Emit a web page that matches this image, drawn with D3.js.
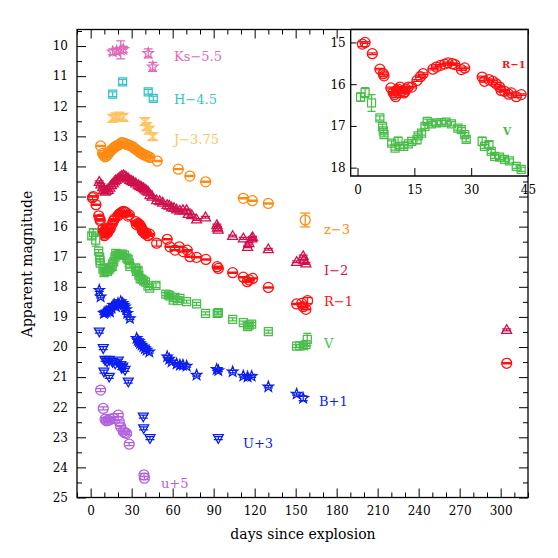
<!DOCTYPE html>
<html>
<head>
<meta charset="utf-8">
<script src="https://cdn.jsdelivr.net/npm/d3@7"></script>
<style>
  body { margin: 0; background: #fff; }
  svg { display: block; }
  text { font-family: "DejaVu Serif", serif; }
</style>
</head>
<body>
<svg id="chart"></svg>
<script>
// light curve points: [day since explosion, apparent mag (offset applied), optional error]
const ksData = [[16.1,10.19],[19,10.17],[22,10.13,0.3],[23.9,10.11],[42.1,10.24,0.15],[45.4,10.69,0.15]];
const hData = [[16.1,11.6],[23.4,11.19],[42.1,11.52],[45.8,11.74]];
const jData = [[16.1,12.4],[18.5,12.35],[20.9,12.33],[23.9,12.37],[39.7,12.51],[41,12.68],[42.9,12.79],[45.4,13.01]];
const zData = [[7.3,13.32],[8.8,13.57],[9.5,13.62],[10.5,13.68],[11.5,13.65],[12.5,13.6],[14.1,13.51],[15.3,13.45],
  [16.5,13.4],[17.5,13.36],[18.8,13.32],[20.2,13.29],[21.5,13.25],[22.7,13.21],[23.8,13.22],[25.1,13.24],[26.3,13.26],
  [27.5,13.28],[29,13.31],[30.7,13.34],[32,13.4],[33.6,13.45],[35,13.5],[36,13.53],[37.3,13.57],[38.5,13.6],[40,13.63],
  [41,13.65],[42.2,13.68],[43.4,13.7],[48.7,13.82],[64.1,14.09],[72.6,14.32],[84.1,14.51],[111.7,15.06],[118.3,15.14],
  [130,15.23],[157,15.78,0.23]];
const iData = [[6.3,14.51],[7.5,14.6],[8.8,14.69],[9.5,14.78],[10.5,14.84],[11.5,14.8],[12.9,14.78],[14,14.7],[15.2,14.62],
  [16.5,14.56],[17.5,14.5],[18.5,14.45],[20.2,14.4],[21.5,14.35],[22.7,14.32],[23.9,14.29],[25,14.32],[26.3,14.36],
  [27.5,14.4],[28.7,14.45],[30,14.48],[31.2,14.51],[33,14.56],[34.8,14.62],[36,14.65],[37.3,14.68],[38.5,14.72],
  [39.7,14.76],[41,14.8],[42.1,14.84],[43.4,14.95],[45,15.0],[48.3,15.12],[50.5,15.15],[52.7,15.2],[56,15.28],
  [57.5,15.3],[59.2,15.36],[61,15.38],[62.9,15.43],[65.3,15.47],[67.5,15.45],[70.2,15.45],[71.4,15.58],[74,15.62],
  [77.5,15.76],[84,15.69],[92.3,15.95],[92.8,16.03],[93.3,16.1],[103.9,16.31],[111.7,16.39],[114.8,16.67],
  [115.8,16.55],[117.8,16.39],[118.5,16.35],[130,16.75],[150.7,17.17],[155.5,16.98],[156,17.11],[157.5,17.22],
  [304.4,19.43]];
const rData = [[1.3,15.04,0.06],[2.0,15.0],[3.9,15.27],[5.9,15.64],[6.8,15.75],[7.0,15.8],[8.8,16.09],[9.4,16.2],
  [9.8,16.25],[10.05,16.3],[10.3,16.15],[10.7,16.12],[11.2,16.07],[11.6,16.17],[12.2,16.21],[12.5,16.18],[12.8,16.12],
  [13.4,16.07],[14.3,16.07],[15.7,15.91],[16.6,15.82],[17.3,15.75],[19.9,15.64],[20.8,15.59],[21.9,15.55],[23.0,15.52],
  [23.9,15.49],[25.0,15.51],[25.7,15.53],[27.4,15.65],[28.3,15.61],[32.9,15.83],[33.5,15.93],[34.7,15.89],[35.7,15.93],
  [36.6,15.99],[37.5,16.07],[37.9,16.15],[38.8,16.17],[39.9,16.24],[40.6,16.21],[41.9,16.3],[43.2,16.25],
  [48.3,16.55,0.1],[56,16.42],[58,16.67],[61.7,16.78],[64.8,16.67],[67.7,16.83],[70.7,16.78],[72.6,17.0],[77.5,17.02],
  [84.3,17.09],[92.6,17.33],[93.4,17.39],[103.9,17.53],[111.7,17.68],[114.6,17.83],[116,17.77],[118.5,17.72],
  [130,18.02],[150.7,18.57],[154.4,18.55],[155.5,18.66],[157.5,18.75],[158.7,18.46,0.1],[304.4,20.54]];
const vData = [[0.8,16.31,0.1],[2.0,16.2,0.12],[3.7,16.45,0.2],[5.9,16.81],[6.6,17.01],[6.8,17.12],[7.0,17.21],
  [9.0,17.41],[9.9,17.53],[10.7,17.37,0.1],[11.2,17.49],[12.2,17.49],[13.4,17.43],[14.3,17.37],[15.7,17.33,0.1],
  [16.0,17.24],[16.9,17.17],[17.8,17.01],[18.4,16.89],[19.5,16.95],[20.8,16.93],[22.1,16.92],[23.4,16.91],[24.8,16.95],
  [26.5,17.05],[27.4,17.09],[28.3,17.21],[28.7,17.32,0.06],[32.9,17.37,0.1],[33.5,17.49],[34.7,17.45,0.08],[35.3,17.61],
  [36.2,17.73],[37.5,17.75],[38.8,17.8],[40.1,17.84],[41.9,17.97],[43.2,18.04],[47.8,17.95,0.08],[55,18.24],
  [56.8,18.27],[58,18.3],[60.4,18.44],[61.7,18.35],[63.4,18.46],[65.3,18.38],[70.2,18.49],[77.5,18.57],[84,18.88],
  [92.6,18.88],[93.4,18.86],[103.9,19.08],[111.7,19.19],[114.8,19.32],[116,19.27],[117.8,19.24],[130,19.49],
  [150.7,19.97],[153,19.96],[155.5,19.95],[157.5,19.92],[158.5,19.75,0.2]];
const bData = [[6.3,18.11],[7.3,18.33],[9.7,18.88],[10.5,18.85],[11.7,18.83],[13,18.8],[14.1,18.83],[15.3,18.7],
  [16.5,18.61],[17.5,18.6],[18.5,18.66],[20,18.55],[22,18.49],[23.4,18.55],[24.3,18.6],[25.1,18.66],[26,18.75],
  [26.8,18.88],[28.7,19.05],[33.6,19.71],[34.5,19.78],[35.3,19.82],[36.1,19.88],[37.3,19.93],[38.5,19.99],[39.7,20.05],
  [41,20.1],[42.9,20.16],[56,20.32],[57.5,20.4],[59.2,20.49],[62.9,20.56],[65.3,20.6],[67.5,20.6],[70.2,20.63],
  [77.5,20.93],[92.2,20.74],[93.4,20.78],[103.9,20.82],[111.7,20.96],[114.8,20.99],[117.8,20.97],[130,21.32],
  [150.7,21.56],[155.5,21.7,0.08]];
const uData = [[6.3,19.49],[9.2,20.04],[9.7,20.82],[10.5,20.43],[12,20.48],[13.6,20.43],[13.6,20.99],[16,20.5],
  [18,20.55],[20.2,20.45],[22,20.6],[22.7,20.7],[23.5,20.65],[25.1,20.76],[27.5,21.15],[38.5,22.31],[38.8,22.7],
  [43.4,23.03],[93.4,23.03]];
const uSdssData = [[7.3,21.43],[9.2,22.04],[10.5,22.4],[11.5,22.45],[12.9,22.43],[14.5,22.4],[16.5,22.37],[20.2,22.26],
  [20.9,22.48],[22,22.65],[23.9,22.81],[25,22.85],[26.3,22.87],[28.2,23.23],[39,24.25],[39.3,24.36]];

const xTicks = [0, 30, 60, 90, 120, 150, 180, 210, 240, 270, 300];
const yTicks = [10, 11, 12, 13, 14, 15, 16, 17, 18, 19, 20, 21, 22, 23, 24, 25];
const insetXTicks = [0, 15, 30, 45];
const insetYTicks = [15, 16, 17, 18];

const series = [
  {name: "Ks\u22125.5", data: ksData, color: "#dd6ab8", shape: "star", err: 0.1, lx: 174, ly: 56},
  {name: "H\u22124.5", data: hData, color: "#33c4c8", shape: "square", err: 0.08, lx: 174, ly: 99},
  {name: "J\u22123.75", data: jData, color: "#ffc462", shape: "hourglass", err: 0.1, lx: 174, ly: 139},
  {name: "z\u22123", data: zData, color: "#ff8a12", shape: "circle", err: 0.02, lx: 324, ly: 229},
  {name: "I\u22122", data: iData, color: "#d0104c", shape: "triangle", err: 0.03, lx: 324, ly: 270},
  {name: "R\u22121", data: rData, color: "#ff1010", shape: "circle", err: 0.02, lx: 324, ly: 301},
  {name: "V", data: vData, color: "#48bd48", shape: "square", err: 0.05, lx: 324, ly: 343},
  {name: "B+1", data: bData, color: "#0a1ef0", shape: "star", err: 0.04, lx: 319, ly: 401},
  {name: "U+3", data: uData, color: "#0a1ef0", shape: "itriangle", err: 0.05, lx: 243, ly: 443},
  {name: "u+5", data: uSdssData, color: "#b160e0", shape: "circle", err: 0.05, lx: 161, ly: 483}
];

const W = 558, H = 558;
const svg = d3.select("#chart").attr("width", W).attr("height", H);

const x = d3.scaleLinear().domain([-10, 320]).range([77, 528]);
const y = d3.scaleLinear().domain([9.45, 25]).range([29.5, 497.5]);
const xi = d3.scaleLinear().domain([-1.8, 45]).range([350.7, 528]);
const yi = d3.scaleLinear().domain([14.69, 18.2]).range([29.5, 176]);

function starPath(ro, ri) {
  let p = "";
  for (let k = 0; k < 10; k++) {
    const r = k % 2 ? ri : ro;
    const a = -Math.PI / 2 + k * Math.PI / 5;
    p += (k ? "L" : "M") + (r * Math.cos(a)).toFixed(2) + "," + (r * Math.sin(a)).toFixed(2);
  }
  return p + "Z";
}
const shapes = {
  circle: {d: "M5,0A5,5 0 1,1 -5,0A5,5 0 1,1 5,0Z", w: 5},
  square: {d: "M-4,-4H4V4H-4Z", w: 4},
  triangle: {d: "M0,-5.2L5,3.5H-5Z", w: 4.5},
  itriangle: {d: "M0,5.2L5,-3.5H-5Z", w: 4.5},
  star: {d: starPath(5.5, 2.3), w: 4.5},
  hourglass: {d: "M-4.5,-4H4.5L-4.5,4H4.5Z", w: 4.5}
};

function drawSeries(g, s, xs, ys, filter) {
  const sh = shapes[s.shape];
  const pts = s.data.filter(filter);
  const grp = g.append("g").attr("stroke", s.color).attr("fill", "none").attr("stroke-width", 1.25);
  pts.forEach(d => {
    const e = d[2] !== undefined ? d[2] : s.err;
    const cx = xs(d[0]), cy = ys(d[1]);
    const y1 = ys(d[1] - e), y2 = ys(d[1] + e);
    grp.append("path")
      .attr("d", `M${cx},${y1}V${y2}M${cx - sh.w},${y1}H${cx + sh.w}M${cx - sh.w},${y2}H${cx + sh.w}`);
    grp.append("path").attr("transform", `translate(${cx},${cy})`).attr("d", sh.d);
  });
}

// main panel
svg.append("clipPath").attr("id", "clipMain").append("rect")
  .attr("x", 77).attr("y", 29.5).attr("width", 451).attr("height", 468);
const gMain = svg.append("g").attr("clip-path", "url(#clipMain)");
series.forEach(s => drawSeries(gMain, s, x, y, () => true));

series.forEach(s => {
  svg.append("text").attr("x", s.lx).attr("y", s.ly).attr("dy", "0.35em")
    .attr("fill", s.color).style("font-size", "13px").text(s.name);
});

function styleAxis(g) {
  g.select(".domain").remove();
  g.selectAll("line").attr("stroke", "#000").attr("stroke-width", 1);
  g.selectAll("text").style("font-family", "DejaVu Serif, serif").style("font-size", "12px").attr("fill", "#000");
}
const minorX = d3.range(-10, 321, 10).filter(v => v % 30 !== 0);
const minorY = d3.range(9.5, 25, 1);

svg.append("g").attr("transform", "translate(0,497.5)")
  .call(d3.axisBottom(x).tickValues(xTicks).tickSize(-9).tickPadding(9)).call(styleAxis);
svg.append("g").attr("transform", "translate(0,497.5)")
  .call(d3.axisBottom(x).tickValues(minorX).tickSize(-5).tickFormat("")).call(styleAxis);
svg.append("g").attr("transform", "translate(0,29.5)")
  .call(d3.axisTop(x).tickValues(xTicks).tickSize(-9).tickFormat("")).call(styleAxis);
svg.append("g").attr("transform", "translate(0,29.5)")
  .call(d3.axisTop(x).tickValues(minorX).tickSize(-5).tickFormat("")).call(styleAxis);
svg.append("g").attr("transform", "translate(77,0)")
  .call(d3.axisLeft(y).tickValues(yTicks).tickSize(-9).tickPadding(9)).call(styleAxis);
svg.append("g").attr("transform", "translate(77,0)")
  .call(d3.axisLeft(y).tickValues(minorY).tickSize(-5).tickFormat("")).call(styleAxis);
svg.append("g").attr("transform", "translate(528,0)")
  .call(d3.axisRight(y).tickValues(yTicks).tickSize(-9).tickFormat("")).call(styleAxis);
svg.append("g").attr("transform", "translate(528,0)")
  .call(d3.axisRight(y).tickValues(minorY).tickSize(-5).tickFormat("")).call(styleAxis);

svg.append("rect").attr("x", 77).attr("y", 29.5).attr("width", 451).attr("height", 468)
  .attr("fill", "none").attr("stroke", "#000").attr("stroke-width", 1.3);

svg.append("text").attr("x", 303).attr("y", 534).attr("dy", "0.35em").attr("text-anchor", "middle")
  .style("font-size", "14px").text("days since explosion");
svg.append("text").attr("transform", "translate(27,264) rotate(-90)").attr("dy", "0.35em")
  .attr("text-anchor", "middle").style("font-size", "14px").text("Apparent magnitude");

// inset: early R and V
svg.append("rect").attr("x", 350.7).attr("y", 29.5).attr("width", 177.3).attr("height", 146.5).attr("fill", "#fff");
svg.append("clipPath").attr("id", "clipInset").append("rect")
  .attr("x", 350.7).attr("y", 29.5).attr("width", 177.3).attr("height", 146.5);
const gIn = svg.append("g").attr("clip-path", "url(#clipInset)");
const insetSeries = series.filter(s => s.data === rData || s.data === vData);
insetSeries.forEach(s => drawSeries(gIn, s, xi, yi, d => d[0] <= 46));

svg.append("g").attr("transform", "translate(0,176)")
  .call(d3.axisBottom(xi).tickValues(insetXTicks).tickSize(-8).tickPadding(9).tickFormat(d3.format("d"))).call(styleAxis);
svg.append("g").attr("transform", "translate(350.7,0)")
  .call(d3.axisLeft(yi).tickValues(insetYTicks).tickSize(-6).tickPadding(5).tickFormat(d3.format("d"))).call(styleAxis);
svg.append("path").attr("d", "M350.7,29.5V176H528").attr("fill", "none").attr("stroke", "#000").attr("stroke-width", 1.3);
svg.append("path").attr("d", "M350.7,29.5H528V176").attr("fill", "none").attr("stroke", "#000").attr("stroke-width", 1.3);

svg.append("text").attr("x", 502).attr("y", 64).attr("dy", "0.35em").attr("fill", "#ff1010")
  .style("font-size", "10px").style("font-weight", "bold").text("R\u22121");
svg.append("text").attr("x", 503).attr("y", 131).attr("dy", "0.35em").attr("fill", "#48bd48")
  .style("font-size", "10.5px").style("font-weight", "bold").text("V");
</script>
</body>
</html>
